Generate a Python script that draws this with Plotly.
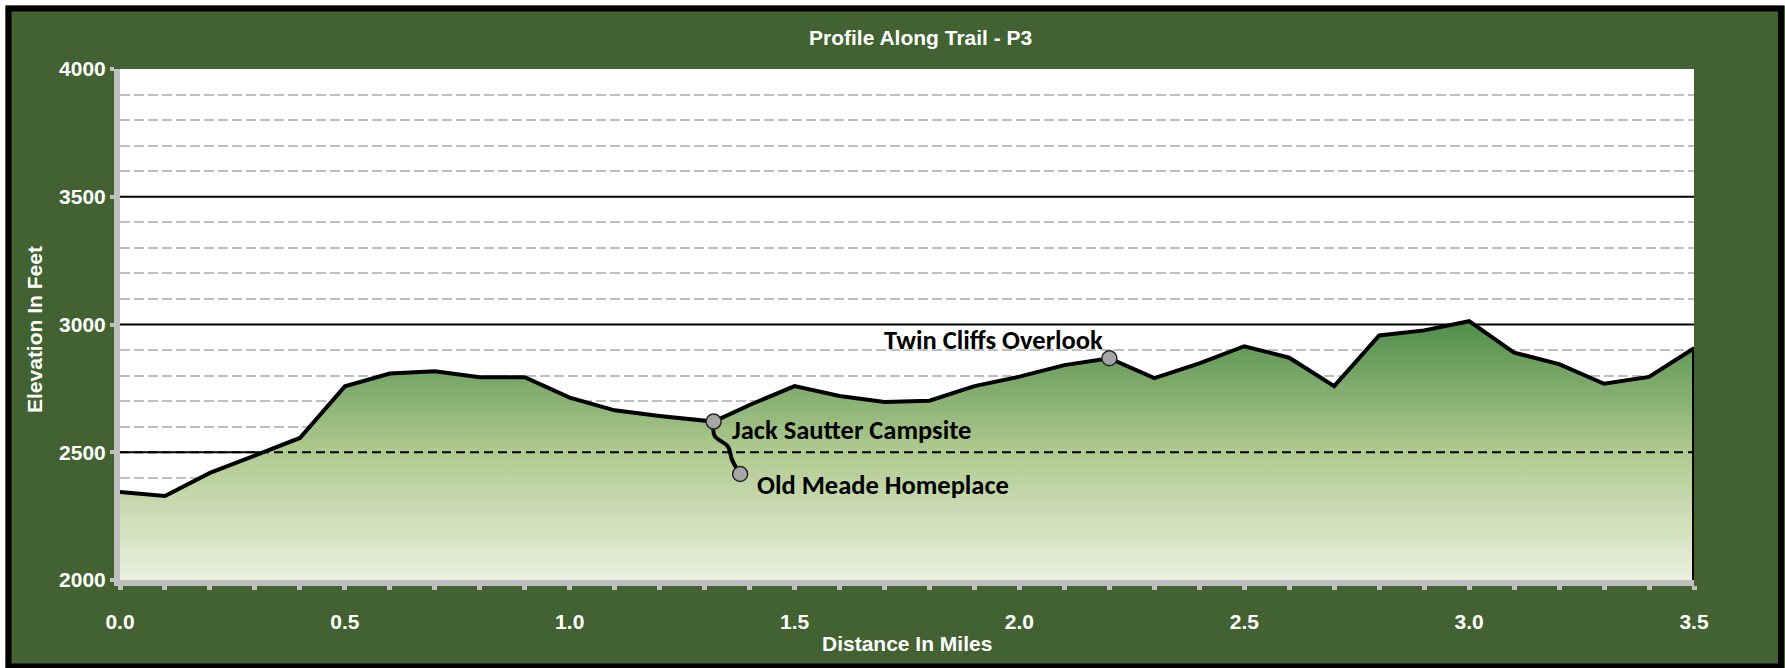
import plotly.graph_objects as go

# ---------------- data ----------------
distance = [0.0, 0.1, 0.2, 0.3, 0.4, 0.5, 0.6, 0.7, 0.8, 0.9, 1.0, 1.1, 1.2, 1.32,
            1.4, 1.5, 1.6, 1.7, 1.8, 1.9, 2.0, 2.1, 2.2, 2.3, 2.4, 2.5, 2.6, 2.7,
            2.8, 2.9, 3.0, 3.1, 3.2, 3.3, 3.4, 3.5]
elevation = [2344, 2329, 2419, 2489, 2556, 2758, 2808, 2817, 2794, 2794, 2714, 2664, 2642, 2620,
             2685, 2759, 2720, 2697, 2702, 2759, 2796, 2841, 2868, 2790, 2848, 2915, 2870, 2759,
             2957, 2977, 3013, 2890, 2845, 2768, 2795, 2907]

spur_distance = [1.32, 1.322, 1.352, 1.361, 1.379]
spur_elevation = [2620, 2565, 2522, 2470, 2415]

poi_names = ["Jack Sautter Campsite", "Old Meade Homeplace", "Twin Cliffs Overlook"]
poi_distance = [1.32, 1.379, 2.2]
poi_elevation = [2620, 2415, 2868]

reference_level = 2500
major_levels = [2500, 3000, 3500]
x_range = [0, 3.5]
y_range = [2000, 4000]

# ---------------- layout geometry ----------------
W, H = 1785, 668
ML, MR, MT, MB = 120, 91, 69, 88
PW, PH = W - ML - MR, H - MT - MB


def px(xp):
    return (xp - ML) / PW


def py(yp):
    return (H - MB - yp) / PH


GREEN_BG = "#426231"
AXIS_GREY = "#BFBFBF"
TXT_FONT = "Liberation Sans, Arial, sans-serif"
LBL_FONT = "Carlito, Calibri, Lato, sans-serif"

fig = go.Figure()

# area + profile line (closed down the right edge)
fig.add_trace(go.Scatter(
    x=distance + [distance[-1]],
    y=elevation + [y_range[0]],
    mode="lines",
    line=dict(color="black", width=4),
    fill="tozeroy",
    fillgradient=dict(type="vertical", start=y_range[0], stop=max(elevation),
                      colorscale=[[0, "#EAF1DE"], [0.5, "#AFC98F"], [1, "#4F8D4A"]]),
    hoverinfo="skip", showlegend=False,
))

# dashed reference line
fig.add_trace(go.Scatter(
    x=x_range, y=[reference_level, reference_level], mode="lines",
    line=dict(color="black", width=2, dash="9px,5px"),
    hoverinfo="skip", showlegend=False,
))

# spur trail
fig.add_trace(go.Scatter(
    x=spur_distance, y=spur_elevation, mode="lines",
    line=dict(color="black", width=4, shape="spline", smoothing=1),
    hoverinfo="skip", showlegend=False,
))

# points of interest
fig.add_trace(go.Scatter(
    x=poi_distance, y=poi_elevation, mode="markers",
    marker=dict(size=15, color="#A6A6A6", line=dict(color="#262626", width=1.5)),
    hoverinfo="skip", showlegend=False,
))

shapes = []
for lv in major_levels:
    shapes.append(dict(type="line", xref="paper", yref="y", x0=0, x1=1, y0=lv, y1=lv,
                       line=dict(color="black", width=2), layer="between"))
# outer white margin + black frame
shapes.append(dict(type="rect", xref="paper", yref="paper", x0=px(0), x1=px(5.5), y0=py(0), y1=py(H),
                   fillcolor="white", line=dict(width=0), layer="below"))
shapes.append(dict(type="rect", xref="paper", yref="paper", x0=px(0), x1=px(W), y0=py(0), y1=py(5.5),
                   fillcolor="white", line=dict(width=0), layer="below"))
shapes.append(dict(type="rect", xref="paper", yref="paper", x0=px(8.5), x1=px(1781), y0=py(8.5), y1=py(666.5),
                   fillcolor="rgba(0,0,0,0)", line=dict(color="black", width=6), layer="below"))

annotations = [
    dict(text="Profile Along Trail - P3", xref="paper", yref="paper", x=px(920), y=py(37),
         xanchor="center", yanchor="middle", showarrow=False,
         font=dict(family=TXT_FONT, size=21, color="white", weight="bold")),
    dict(text="Distance In Miles", xref="paper", yref="paper", x=px(907), y=py(643),
         xanchor="center", yanchor="middle", showarrow=False,
         font=dict(family=TXT_FONT, size=21, color="white", weight="bold")),
    dict(text="Elevation In Feet", xref="paper", yref="paper", x=px(34), y=py(330),
         xanchor="center", yanchor="middle", showarrow=False, textangle=-90,
         font=dict(family=TXT_FONT, size=21, color="white", weight="bold")),
]
label_style = [
    dict(xanchor="left", yanchor="middle", xshift=16, yshift=-8),
    dict(xanchor="left", yanchor="middle", xshift=15, yshift=-11),
    dict(xanchor="right", yanchor="middle", xshift=-4, yshift=18),
]
for name, d, e, st in zip(poi_names, poi_distance, poi_elevation, label_style):
    annotations.append(dict(text=name, x=d, y=e, xref="x", yref="y", showarrow=False,
                            font=dict(family=LBL_FONT, size=26.5, color="black", weight="bold"), **st))

fig.update_layout(
    width=W, height=H, autosize=False,
    margin=dict(l=ML, r=MR, t=MT, b=MB, pad=0),
    paper_bgcolor=GREEN_BG, plot_bgcolor="white",
    shapes=shapes, annotations=annotations,
    showlegend=False,
    xaxis=dict(range=x_range, dtick=0.5, tick0=0, tickformat=".1f",
               showgrid=False, zeroline=False,
               showline=True, linecolor=AXIS_GREY, linewidth=6,
               ticks="outside", ticklen=4, tickwidth=5, tickcolor=AXIS_GREY,
               minor=dict(dtick=0.1, ticks="outside", ticklen=4, tickwidth=5, tickcolor=AXIS_GREY, showgrid=False),
               tickfont=dict(family=TXT_FONT, size=21, color="white", weight="bold"),
               ticklabelstandoff=14),
    yaxis=dict(range=y_range, dtick=500, tick0=2000,
               showgrid=False, zeroline=False,
               showline=True, linecolor=AXIS_GREY, linewidth=6,
               ticks="outside", ticklen=4, tickwidth=4, tickcolor=AXIS_GREY,
               minor=dict(dtick=100, showgrid=True, gridcolor=AXIS_GREY, gridwidth=1.5,
                          griddash="10px,4px", ticks=""),
               tickfont=dict(family=TXT_FONT, size=21, color="white", weight="bold"),
               ticklabelstandoff=0),
)

fig.write_html("out.html", config={"displayModeBar": False},
               post_script="document.body.style.margin='0';")
